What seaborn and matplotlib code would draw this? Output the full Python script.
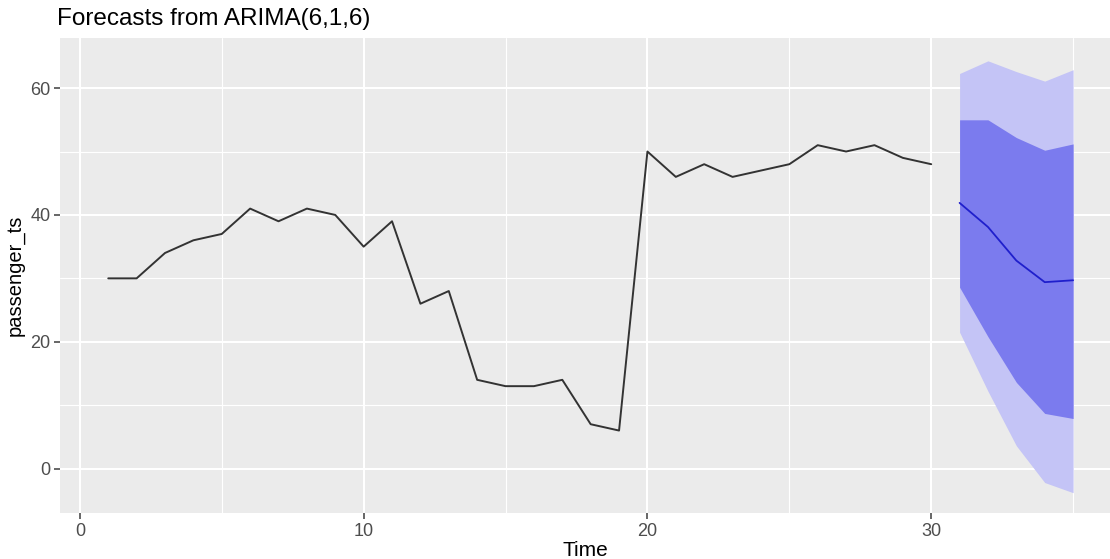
import numpy as np
import pandas as pd
import matplotlib
matplotlib.use("Agg")
import matplotlib.pyplot as plt
import seaborn as sns

# observed series
time_obs = list(range(1, 31))
passengers = [30, 30, 34, 36, 37, 41, 39, 41, 40, 35,
              39, 26, 28, 14, 13, 13, 14, 7, 6, 50,
              46, 48, 46, 47, 48, 51, 50, 51, 49, 48]

# forecast horizon
time_fc = [31, 32, 33, 34, 35]
fc_mean = [41.9, 38.1, 32.8, 29.4, 29.7]
lo80 = [28.6, 20.8, 13.6, 8.7, 7.9]
hi80 = [55.0, 55.0, 52.2, 50.2, 51.2]
lo95 = [21.5, 12.2, 3.6, -2.2, -3.8]
hi95 = [62.3, 64.3, 62.6, 61.1, 62.9]

sns.set_theme(style="darkgrid", rc={
    "axes.facecolor": "#EBEBEB",
    "grid.color": "white",
    "axes.edgecolor": "#EBEBEB",
    "xtick.color": "#4D4D4D",
    "ytick.color": "#4D4D4D",
    "xtick.labelcolor": "#4D4D4D",
    "ytick.labelcolor": "#4D4D4D",
})
plt.rcParams["font.family"] = ["Liberation Sans", "DejaVu Sans"]

obs = pd.DataFrame({"Time": time_obs, "passenger_ts": passengers})
fc = pd.DataFrame({"Time": time_fc, "mean": fc_mean,
                   "lo80": lo80, "hi80": hi80, "lo95": lo95, "hi95": hi95})

fig = plt.figure(figsize=(11.1, 5.59), dpi=100)
ax = fig.add_axes([60 / 1110, 1 - 513 / 559, 1050 / 1110, (513 - 38) / 559])

# minor grid
for v in [5, 15, 25, 35]:
    ax.axvline(v, color="white", lw=0.8, zorder=0)
for v in [10, 30, 50]:
    ax.axhline(v, color="white", lw=0.8, zorder=0)

ax.fill_between(fc["Time"], fc["lo95"], fc["hi95"], color="#C4C4F6", lw=0, zorder=2)
ax.fill_between(fc["Time"], fc["lo80"], fc["hi80"], color="#7B7BEE", lw=0, zorder=3)
sns.lineplot(data=obs, x="Time", y="passenger_ts", ax=ax, color="#333333", lw=1.4, zorder=4)
sns.lineplot(data=fc, x="Time", y="mean", ax=ax, color="#1F1FCC", lw=1.3, zorder=5)

ax.set_xlim(-0.7, 36.3)
ax.set_ylim(-7.0, 67.9)
ax.set_xticks([0, 10, 20, 30])
ax.set_yticks([0, 20, 40, 60])
ax.grid(True, color="white", lw=1.5, zorder=0)
ax.set_axisbelow(True)
ax.tick_params(axis="both", length=4, width=1.2, labelsize=13, pad=3,
               color="#4D4D4D", bottom=True, left=True)
for s in ax.spines.values():
    s.set_visible(False)

ax.set_xlabel("Time", fontsize=15, color="black", labelpad=1)
ax.set_ylabel("passenger_ts", fontsize=14.5, color="black", labelpad=4)
ax.set_title("Forecasts from ARIMA(6,1,6)", fontsize=17.5, loc="left",
             x=-0.003, pad=9, color="black")

fig.savefig("out.png", dpi=100)
